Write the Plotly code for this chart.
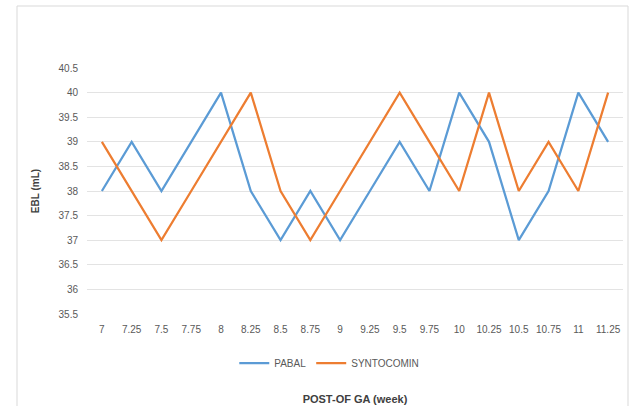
import plotly.graph_objects as go

# Post-op gestational age (weeks) and EBL readings for each drug
weeks = ["7", "7.25", "7.5", "7.75", "8", "8.25", "8.5", "8.75", "9", "9.25",
         "9.5", "9.75", "10", "10.25", "10.5", "10.75", "11", "11.25"]
pabal = [38, 39, 38, 39, 40, 38, 37, 38, 37, 38, 39, 38, 40, 39, 37, 38, 40, 39]
syntocomin = [39, 38, 37, 38, 39, 40, 38, 37, 38, 39, 40, 39, 38, 40, 38, 39, 38, 40]
y_ticks = [35.5, 36, 36.5, 37, 37.5, 38, 38.5, 39, 39.5, 40, 40.5]

FONT = "Liberation Sans Narrow, Liberation Sans, Arial, sans-serif"
GRAY = "#595959"

fig = go.Figure()
fig.add_trace(go.Scatter(x=weeks, y=pabal, mode="lines", name="PABAL",
                         line=dict(color="#5B9BD5", width=2.25)))
fig.add_trace(go.Scatter(x=weeks, y=syntocomin, mode="lines", name="SYNTOCOMIN",
                         line=dict(color="#ED7D31", width=2.25)))

fig.update_layout(
    width=633, height=406,
    margin=dict(l=87, r=10, t=68, b=92),
    paper_bgcolor="white", plot_bgcolor="white",
    font=dict(family=FONT, size=10, color=GRAY),
    showlegend=True,
    legend=dict(orientation="h", x=0.452, xanchor="center", y=-0.2, yanchor="middle",
                font=dict(family=FONT, size=10, color=GRAY), itemwidth=30,
                tracegroupgap=0),
    xaxis=dict(type="category", range=[-0.5, len(weeks) - 0.5], automargin=False,
               showgrid=False, zeroline=False, showline=False,
               ticks="", ticklabelstandoff=8,
               tickfont=dict(family=FONT, size=10, color=GRAY),
               title=dict(text="<b>POST-OF GA (week)</b>", standoff=61,
                          font=dict(family=FONT, size=11, color="#404040"))),
    yaxis=dict(range=[35.5, 40.5], tickvals=y_ticks, automargin=False,
               ticktext=[f"{v:g}" for v in y_ticks],
               showgrid=True, gridcolor="#E3E3E3", gridwidth=1,
               zeroline=False, showline=False, ticks="", ticklabelstandoff=8,
               tickfont=dict(family=FONT, size=10, color=GRAY),
               title=dict(text="<b>EBL (mL)</b>", standoff=17,
                          font=dict(family=FONT, size=10, color="#404040"))),
    shapes=[dict(type="rect", xref="paper", yref="paper",
                 x0=(17 - 87) / 536, x1=(628 - 87) / 536,
                 y0=(314 - 408) / 246, y1=(314 - 6) / 246,
                 line=dict(color="#D9D9D9", width=1), fillcolor="rgba(0,0,0,0)",
                 layer="below")],
)

fig.write_html("out.html")
